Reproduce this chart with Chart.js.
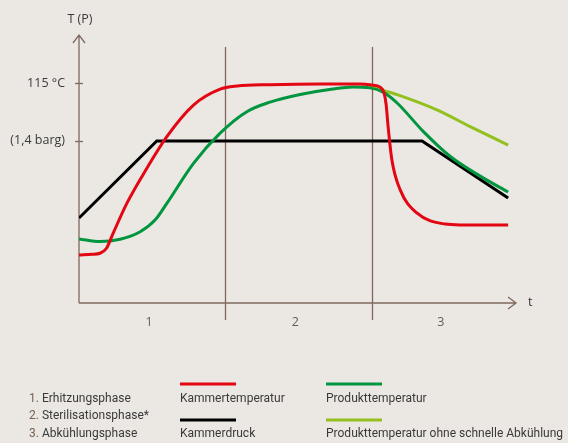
<!DOCTYPE html>
<html lang="de">
<head>
    <meta charset="UTF-8">
    <title>Sterilisationsverlauf</title>
    <script src="https://cdn.jsdelivr.net/npm/chart.js"></script>
    <style>
      html, body { margin: 0; padding: 0; background: #ebe7e3; }
      #chart { display: block; }
    </style>
</head>
<body>
    <canvas id="chart" width="568" height="443"></canvas>

    <script>
        // Zeitachse und Werte in relativen Einheiten (0..100)
        const kammerTempX = [0, 3.0, 4.8, 6.3, 7.8, 11.0, 15.5, 20.1, 26.2, 32.3, 36.2, 43.7, 55.1, 64.3, 67.0, 68.9, 69.8, 70.3, 70.7, 71.6, 73.5, 77.3, 83.8, 87.2, 98.2];
        const kammerTempY = [17.7, 18.0, 18.4, 20.3, 25.9, 37.4, 50.4, 62.4, 74.3, 80.3, 81.5, 82.0, 82.3, 82.3, 81.9, 81.1, 78.9, 74.3, 66.8, 53.6, 42.3, 33.6, 29.4, 29.1, 29.1];

        const produktTempX = [0, 4.8, 9.4, 14.0, 17.4, 20.1, 26.2, 32.3, 38.4, 43.7, 50.6, 58.1, 62.7, 66.6, 69.6, 72.8, 78.7, 84.9, 91.8, 98.2];
        const produktTempY = [23.8, 22.8, 23.7, 26.5, 30.9, 37.2, 52.3, 63.7, 71.8, 75.4, 78.3, 80.4, 81.1, 80.8, 79.2, 75.1, 64.5, 55.0, 47.5, 41.5];

        const ohneAbkuehlX = [64.8, 66.6, 70.0, 74.1, 81.9, 89.5, 98.2];
        const ohneAbkuehlY = [81.1, 81.1, 79.6, 77.5, 72.5, 66.2, 59.2];

        const druckX = [0, 17.8, 78.5, 98.2];
        const druckY = [31.7, 60.8, 60.8, 39.2];

        const phaseGrenzen = [33.4, 67.0];
        const phaseLabels = ['1', '2', '3'];
        const yTicks = [82.6, 60.8];
        const yTickLabels = ['115 °C', '(1,4 barg)'];

        const legendPhasen = [['1.', 'Erhitzungsphase'], ['2.', 'Sterilisationsphase*'], ['3.', 'Abkühlungsphase']];

        const toPoints = (xs, ys) => xs.map((x, i) => ({x: x, y: ys[i]}));

        const AXIS = '#80685d';
        const TEXT = '#3a3a3a';
        const FONT = '"Open Sans", sans-serif';

        const achsenPlugin = {
            id: 'achsenPlugin',
            beforeDatasetsDraw(chart) {
                const {ctx, chartArea, scales} = chart;
                const left = chartArea.left, bottom = chartArea.bottom + 1;
                ctx.save();
                ctx.strokeStyle = AXIS;
                ctx.lineWidth = 1.3;

                // Phasengrenzen
                phaseGrenzen.forEach(v => {
                    const x = Math.round(scales.x.getPixelForValue(v)) + 0.5;
                    ctx.beginPath();
                    ctx.moveTo(x, 47);
                    ctx.lineTo(x, 320);
                    ctx.stroke();
                });

                // y-Achse mit Pfeil
                ctx.beginPath();
                ctx.moveTo(left, bottom);
                ctx.lineTo(left, 35);
                ctx.moveTo(left - 6, 43);
                ctx.lineTo(left, 35);
                ctx.lineTo(left + 6, 43);
                ctx.stroke();

                // x-Achse mit Pfeil
                const right = chartArea.right;
                ctx.beginPath();
                ctx.moveTo(left, bottom);
                ctx.lineTo(right, bottom);
                ctx.moveTo(right - 8, bottom - 6);
                ctx.lineTo(right, bottom);
                ctx.lineTo(right - 8, bottom + 6);
                ctx.stroke();

                // Ticks
                yTicks.forEach(v => {
                    const y = Math.round(scales.y.getPixelForValue(v)) + 0.5;
                    ctx.beginPath();
                    ctx.moveTo(left - 4, y);
                    ctx.lineTo(left + 4, y);
                    ctx.stroke();
                });

                ctx.font = '12.5px ' + FONT;
                ctx.fillStyle = TEXT;
                ctx.textBaseline = 'middle';
                ctx.textAlign = 'right';
                yTicks.forEach((v, i) => {
                    ctx.fillText(yTickLabels[i], left - 14, scales.y.getPixelForValue(v));
                });
                ctx.textAlign = 'center';
                ctx.fillText('T (P)', left + 1, 19);
                ctx.textAlign = 'left';
                ctx.fillText('t', right + 12, bottom - 1);

                // Phasennummern
                ctx.fillStyle = '#6b5a52';
                ctx.textAlign = 'center';
                const grenzen = [left].concat(phaseGrenzen.map(v => scales.x.getPixelForValue(v)), [right]);
                phaseLabels.forEach((t, i) => {
                    ctx.fillText(t, (grenzen[i] + grenzen[i + 1]) / 2 - 3, 322);
                });
                ctx.restore();
            },
            afterDraw(chart) {
                const {ctx} = chart;
                ctx.save();
                ctx.font = '12px Roboto, sans-serif';
                ctx.textBaseline = 'middle';
                ctx.textAlign = 'left';
                const rows = [399, 416, 434];
                legendPhasen.forEach((p, i) => {
                    ctx.fillStyle = '#7a5f52';
                    ctx.fillText(p[0], 29, rows[i]);
                    const w = ctx.measureText(p[0] + ' ').width;
                    ctx.fillStyle = TEXT;
                    ctx.fillText(p[1], 29 + w, rows[i]);
                });
                const items = [
                    {x: 180, lineY: 384, textY: 399, ds: 0},
                    {x: 180, lineY: 420, textY: 434, ds: 3},
                    {x: 326, lineY: 384, textY: 399, ds: 1},
                    {x: 326, lineY: 420, textY: 434, ds: 2}
                ];
                items.forEach(it => {
                    const ds = chart.data.datasets[it.ds];
                    ctx.strokeStyle = ds.borderColor;
                    ctx.lineWidth = 3;
                    ctx.beginPath();
                    ctx.moveTo(it.x, it.lineY);
                    ctx.lineTo(it.x + 56, it.lineY);
                    ctx.stroke();
                    ctx.fillStyle = TEXT;
                    ctx.fillText(ds.label, it.x, it.textY);
                });
                ctx.restore();
            }
        };

        const config = {
            type: 'line',
            data: {
                datasets: [{
                    label: 'Kammertemperatur',
                    data: toPoints(kammerTempX, kammerTempY),
                    borderColor: '#e30613',
                    order: 1
                }, {
                    label: 'Produkttemperatur',
                    data: toPoints(produktTempX, produktTempY),
                    borderColor: '#00963f',
                    order: 2
                }, {
                    label: 'Produkttemperatur ohne schnelle Abkühlung',
                    data: toPoints(ohneAbkuehlX, ohneAbkuehlY),
                    borderColor: '#93c01f',
                    order: 4
                }, {
                    label: 'Kammerdruck',
                    data: toPoints(druckX, druckY),
                    borderColor: '#000000',
                    order: 3,
                    cubicInterpolationMode: 'default',
                    tension: 0
                }]
            },
            options: {
                responsive: false,
                animation: false,
                layout: { padding: { left: 79, top: 37, right: 52, bottom: 141 } },
                elements: {
                    line: { borderWidth: 3, cubicInterpolationMode: 'monotone', fill: false },
                    point: { radius: 0 }
                },
                plugins: {
                    legend: { display: false },
                    tooltip: { enabled: false }
                },
                scales: {
                    x: { type: 'linear', min: 0, max: 100, display: false },
                    y: { min: 0, max: 100, display: false }
                }
            },
            plugins: [achsenPlugin]
        };

        new Chart(document.getElementById('chart').getContext('2d'), config);
    </script>
</body>
</html>
